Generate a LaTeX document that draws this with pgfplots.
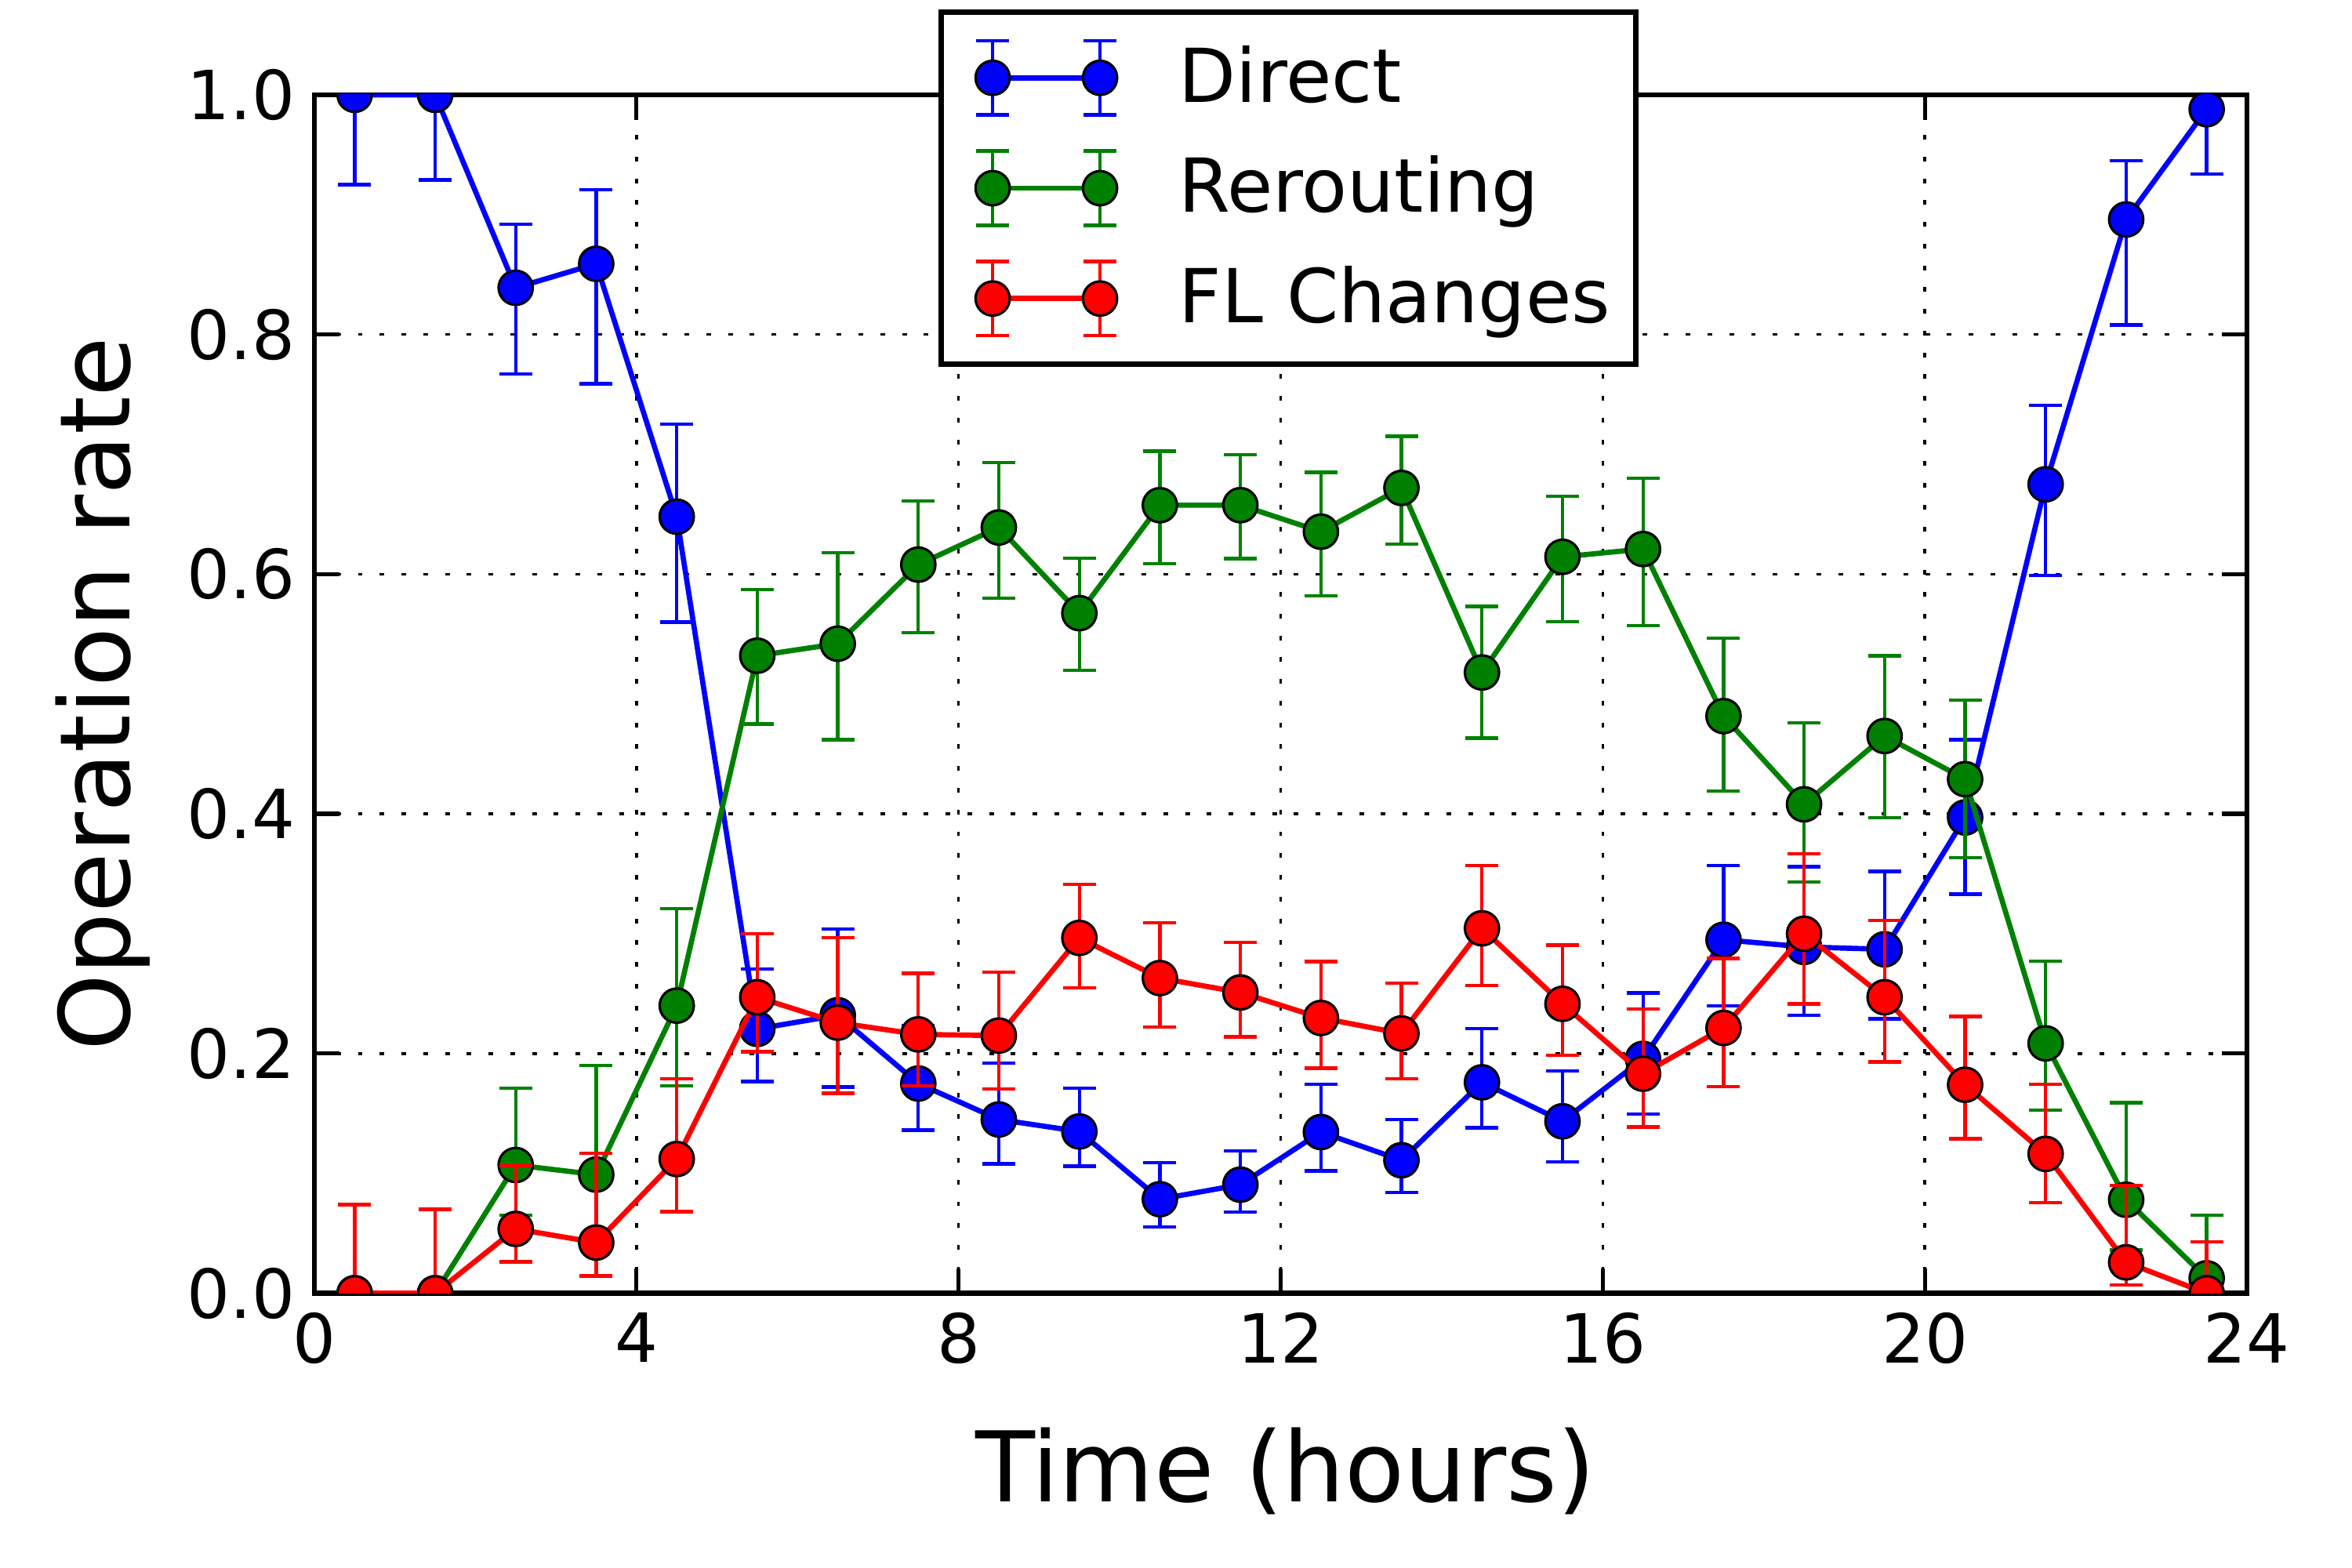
\documentclass[border=0pt]{standalone}
\usepackage{fontspec}
\setmainfont{DejaVu Sans}
\usepackage{pgfplots}
\usepackage{pgfplotstable}
\pgfplotsset{compat=1.18}
\definecolor{mgreen}{rgb}{0,0.5,0}

\pgfplotstableread{
x y ep em
0.5 1.000 0.075 0.075
1.5 1.000 0.071 0.071
2.5 0.839 0.053 0.072
3.5 0.859 0.062 0.100
4.5 0.648 0.077 0.088
5.5 0.2206 0.050 0.044
6.5 0.232 0.072 0.060
7.5 0.175 0.048 0.039
8.5 0.145 0.047 0.037
9.5 0.135 0.036 0.029
10.5 0.0785 0.0305 0.023
11.5 0.0906 0.028 0.023
12.5 0.1345 0.040 0.0325
13.5 0.111 0.034 0.027
14.5 0.176 0.045 0.038
15.5 0.1435 0.042 0.034
16.5 0.1956 0.055 0.046
17.5 0.295 0.062 0.055
18.5 0.289 0.067 0.057
19.5 0.287 0.065 0.058
20.5 0.397 0.065 0.064
21.5 0.675 0.066 0.076
22.5 0.896 0.049 0.088
23.5 0.988 0.050 0.054
}\direct

\pgfplotstableread{
x y ep em
0.5 0.000 0.000 0.000
1.5 0.000 0.000 0.000
2.5 0.107 0.064 0.042
3.5 0.099 0.091 0.054
4.5 0.240 0.081 0.067
5.5 0.532 0.055 0.057
6.5 0.542 0.076 0.080
7.5 0.608 0.053 0.057
8.5 0.639 0.054 0.059
9.5 0.5675 0.046 0.0475
10.5 0.6576 0.045 0.049
11.5 0.6576 0.042 0.0446
12.5 0.6355 0.0495 0.0535
13.5 0.672 0.043 0.047
14.5 0.518 0.055 0.0547
15.5 0.6145 0.0505 0.054
16.5 0.621 0.059 0.064
17.5 0.4816 0.065 0.0626
18.5 0.408 0.068 0.065
19.5 0.465 0.067 0.068
20.5 0.429 0.066 0.0656
21.5 0.2085 0.0685 0.0555
22.5 0.078 0.081 0.042
23.5 0.0125 0.0525 0.0125
}\rerouting

\pgfplotstableread{
x y ep em
0.5 0.000 0.074 0.000
1.5 0.000 0.070 0.000
2.5 0.0537 0.053 0.0274
3.5 0.0423 0.0747 0.0278
4.5 0.112 0.067 0.044
5.5 0.247 0.053 0.0455
6.5 0.2258 0.071 0.059
7.5 0.216 0.051 0.043
8.5 0.215 0.053 0.0444
9.5 0.2965 0.0445 0.0415
10.5 0.263 0.046 0.041
11.5 0.251 0.042 0.037
12.5 0.2297 0.047 0.042
13.5 0.2168 0.042 0.038
14.5 0.3045 0.0525 0.0477
15.5 0.2415 0.049 0.043
16.5 0.1832 0.054 0.0444
17.5 0.2214 0.058 0.049
18.5 0.300 0.0665 0.0586
19.5 0.247 0.064 0.054
20.5 0.174 0.057 0.045
21.5 0.1163 0.058 0.0406
22.5 0.0258 0.064 0.0187
23.5 0.000 0.043 0.000
}\flchanges

\begin{document}
\begin{tikzpicture}
\useasboundingbox (-2.005cm,-1.752cm) rectangle (12.995cm,8.248cm);
\begin{axis}[
  at={(0,0)}, anchor=south west,
  scale only axis, width=12.325cm, height=7.643cm,
  xmin=0, xmax=24, ymin=0, ymax=1,
  xtick={0,4,8,12,16,20,24},
  ytick={0,0.2,0.4,0.6,0.8,1.0},
  yticklabel style={/pgf/number format/fixed, /pgf/number format/fixed zerofill, /pgf/number format/precision=1},
  /pgf/number format/assume math mode=true,
  tick label style={font=\fontsize{12.3}{14}\selectfont},
  label style={font=\fontsize{17.7}{21}\selectfont},
  xlabel={Time (hours)},
  ylabel={Operation rate},
  xlabel style={at={(axis description cs:0.5,0)}, anchor=base, yshift=-1.33cm, xshift=0.03cm},
  ylabel style={at={(axis description cs:-0.0957,0.5)}, anchor=base},
  tick align=inside,
  major tick length=0.16cm,
  tick style={black, line width=0.75pt},
  axis line style={line width=0.95pt},
  grid=major,
  major grid style={black, line width=0.5pt, dash pattern=on 0.85pt off 3.1pt},
  clip marker paths=true,
  legend style={at={(axis description cs:0.504,1.071)}, anchor=north, draw=black, line width=0.95pt, fill=white,
    font=\fontsize{13.5}{16}\selectfont, cells={anchor=west}, inner xsep=4pt, inner ysep=4pt, row sep=0.15cm,
    nodes={inner xsep=0.6pt, inner ysep=2pt}},
  legend image code/.code={
    \draw[#1, mark=none, line width=0.62pt, solid]
      (0cm,-0.237cm) -- (0cm,0.237cm)
      (-0.105cm,-0.237cm) -- (0.105cm,-0.237cm)
      (-0.105cm,0.237cm) -- (0.105cm,0.237cm)
      (0.685cm,-0.237cm) -- (0.685cm,0.237cm)
      (0.58cm,-0.237cm) -- (0.79cm,-0.237cm)
      (0.58cm,0.237cm) -- (0.79cm,0.237cm);
    \draw[#1] plot coordinates {(0cm,0cm) (0.685cm,0cm)};
    \path (-0.172cm,0cm) (1.15cm,0cm);
  },
]
\addplot[color=blue, line width=0.95pt, mark=*, mark size=3.1pt,
  mark options={fill=blue, draw=black, line width=0.45pt, solid},
  error bars/.cd, y dir=both, y explicit,
  error bar style={line width=0.62pt, blue},
  error mark options={rotate=90, mark size=0.105cm, line width=0.62pt, blue}]
  table[x=x, y=y, y error plus=ep, y error minus=em] {\direct};
\addlegendentry{Direct}
\addplot[color=mgreen, line width=0.95pt, mark=*, mark size=3.1pt,
  mark options={fill=mgreen, draw=black, line width=0.45pt, solid},
  error bars/.cd, y dir=both, y explicit,
  error bar style={line width=0.62pt, mgreen},
  error mark options={rotate=90, mark size=0.105cm, line width=0.62pt, mgreen}]
  table[x=x, y=y, y error plus=ep, y error minus=em] {\rerouting};
\addlegendentry{Rerouting}
\addplot[color=red, line width=0.95pt, mark=*, mark size=3.1pt,
  mark options={fill=red, draw=black, line width=0.45pt, solid},
  error bars/.cd, y dir=both, y explicit,
  error bar style={line width=0.62pt, red},
  error mark options={rotate=90, mark size=0.105cm, line width=0.62pt, red}]
  table[x=x, y=y, y error plus=ep, y error minus=em] {\flchanges};
\addlegendentry{FL Changes}
\end{axis}
\end{tikzpicture}
\end{document}
